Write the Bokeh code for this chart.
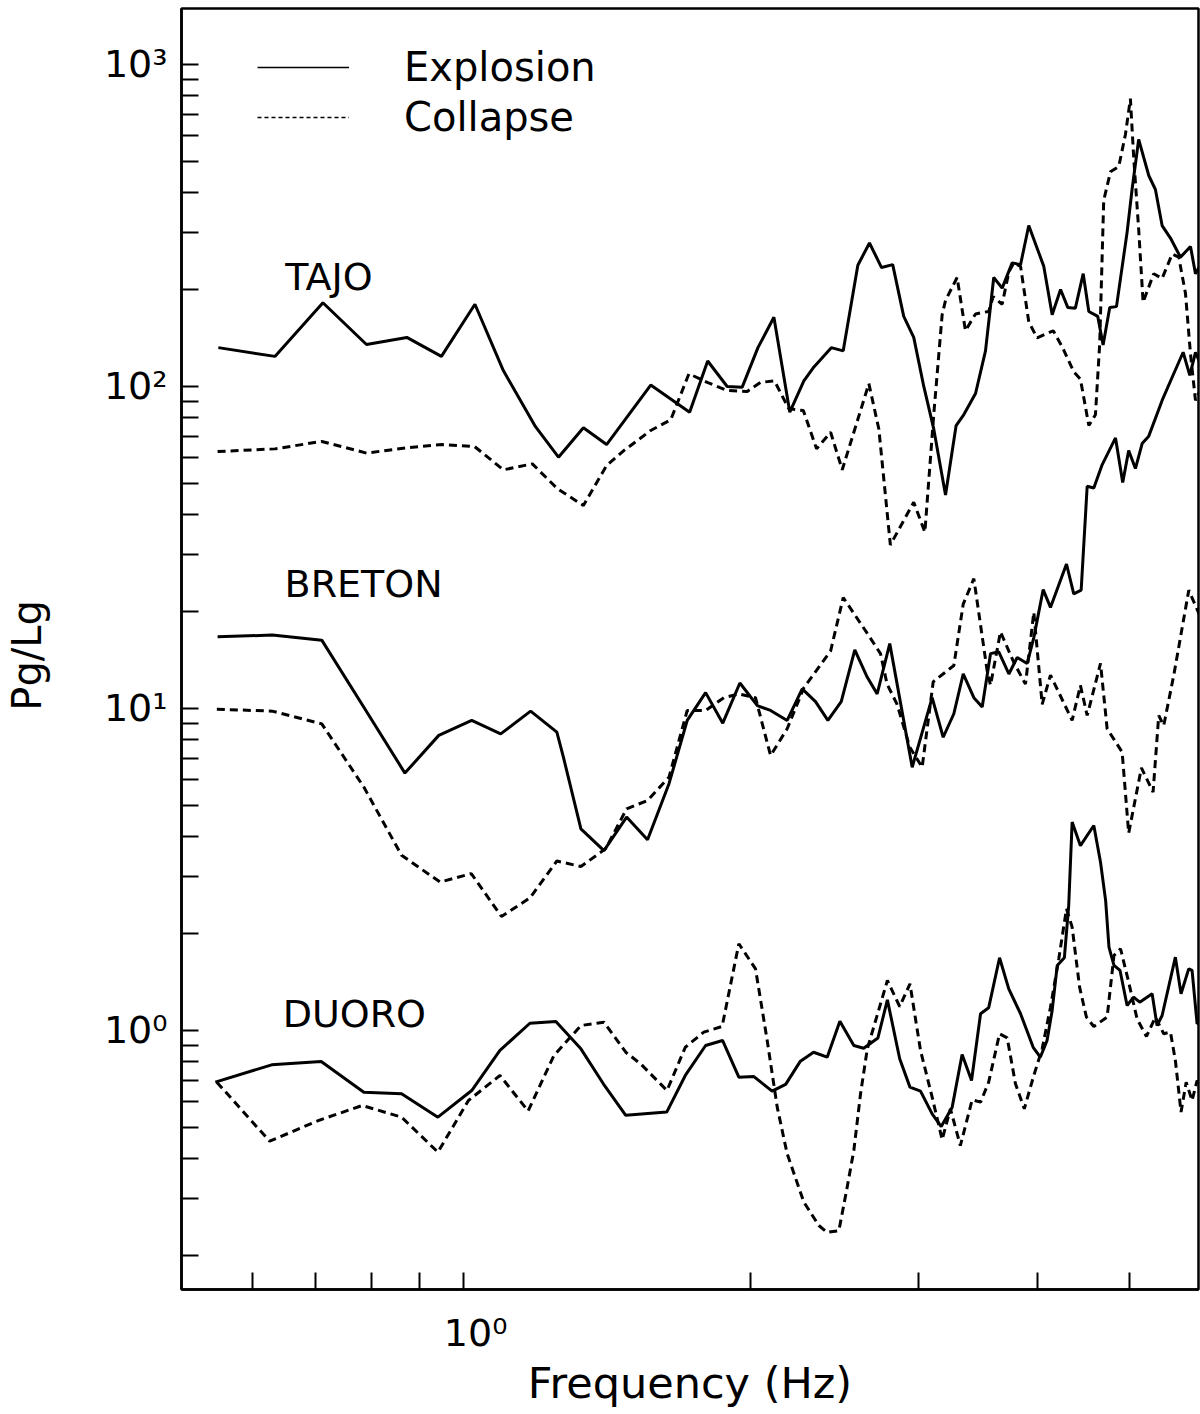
from bokeh.plotting import figure
from bokeh.models import FixedTicker, Legend, LegendItem, Label
from bokeh.embed import file_html
from bokeh.resources import INLINE

# ---------------- data (Pg/Lg spectral ratios) ----------------
TAJO_EXP_F = [0.553, 0.634, 0.712, 0.791, 0.872, 0.948, 1.028, 1.101, 1.190, 1.258, 1.336, 1.413, 1.572, 1.727,
              1.804, 1.891, 1.961, 2.037, 2.117, 2.200, 2.276, 2.332, 2.432, 2.503, 2.593, 2.667, 2.746, 2.821,
              2.897, 2.968, 3.041, 3.115, 3.205, 3.288, 3.350, 3.446, 3.530, 3.601, 3.675, 3.765, 3.842, 3.919,
              4.064, 4.147, 4.232, 4.306, 4.386, 4.470, 4.531, 4.630, 4.690, 4.766, 4.844, 4.970, 5.030, 5.111,
              5.237, 5.322, 5.409, 5.519, 5.654, 5.793, 5.863, 5.935]
TAJO_EXP = [132, 124, 182, 135, 142, 124, 180, 112, 75, 60.3, 74.4, 66, 101, 83.2,
            120, 100, 99.5, 132, 164, 83.2, 104, 115, 132, 129, 238, 279, 234, 239,
            165, 142, 100, 73.8, 46.0, 75.6, 81.8, 95.1, 129, 218, 202, 242, 239, 316,
            236, 167, 200, 176, 175, 224, 171, 165, 134.5, 176, 177, 301, 409, 585,
            452, 409, 316, 289, 252, 272, 224, 239]

TAJO_COL_F = [0.552, 0.634, 0.710, 0.791, 0.871, 0.949, 1.027, 1.101, 1.181, 1.255, 1.336, 1.413, 1.474, 1.572,
              1.650, 1.724, 1.802, 1.891, 1.985, 2.050, 2.120, 2.195, 2.273, 2.347, 2.428, 2.497, 2.663, 2.728,
              2.805, 2.968, 3.049, 3.115, 3.179, 3.205, 3.296, 3.363, 3.446, 3.558, 3.596, 3.675, 3.735, 3.780,
              3.842, 3.919, 3.999, 4.158, 4.249, 4.369, 4.440, 4.531, 4.604, 4.652, 4.697, 4.774, 4.871, 4.950,
              5.010, 5.050, 5.111, 5.166, 5.300, 5.409, 5.542, 5.631, 5.723, 5.793, 5.863, 5.935]
TAJO_COL = [62.8, 64.0, 67.5, 62.1, 64.5, 66.0, 65.1, 55.1, 57.5, 48.1, 42.7, 56.8, 63.3, 73.0,
            78.8, 109.5, 103, 97.2, 96.5, 103, 104, 85.2, 84.2, 64.0, 72.1, 55.1, 102, 73.8,
            32.2, 43.7, 35.3, 81.8, 167, 185, 218, 149, 168, 171, 190, 180, 227, 242,
            236, 158.7, 141.5, 148.9, 132.7, 111, 105.4, 75.6, 81.7, 136.1, 378, 464, 482, 606,
            783, 514, 308, 182.6, 224, 216.5, 257.7, 252, 194.6, 126.1, 90.5, 97.9]

BRETON_EXP_F = [0.552, 0.630, 0.710, 0.786, 0.868, 0.942, 1.020, 1.094, 1.176, 1.253, 1.273, 1.328, 1.404, 1.483,
                1.560, 1.643, 1.717, 1.795, 1.871, 1.950, 2.034, 2.100, 2.186, 2.267, 2.341, 2.412, 2.491, 2.574,
                2.653, 2.717, 2.801, 2.957, 3.103, 3.187, 3.270, 3.345, 3.432, 3.502, 3.573, 3.645, 3.735, 3.811,
                3.904, 3.967, 4.058, 4.130, 4.293, 4.369, 4.448, 4.513, 4.586, 4.679, 4.833, 4.918, 4.989, 5.071,
                5.154, 5.237, 5.409, 5.564, 5.691, 5.783, 5.863, 5.935]
BRETON_EXP = [16.7, 16.9, 16.3, 10.09, 6.30, 8.25, 9.18, 8.34, 9.81, 8.44, 7.06, 4.23, 3.62, 4.60,
              3.91, 5.84, 9.18, 11.2, 9.00, 12.0, 10.2, 9.86, 9.18, 11.5, 10.5, 9.18, 10.5, 15.2,
              12.5, 11.1, 15.9, 6.57, 10.8, 8.14, 9.63, 12.8, 10.8, 10.1, 14.8, 15.0, 12.8, 14.4,
              13.8, 16.6, 23.4, 20.6, 28.1, 22.7, 23.3, 49.0, 48.4, 57.1, 69.2, 50.3, 63.3, 55.6,
              66.5, 70.1, 90.5, 109.7, 127.7, 108.2, 127.7, 117]

BRETON_COL_F = [0.551, 0.630, 0.710, 0.751, 0.786, 0.861, 0.945, 1.019, 1.096, 1.174, 1.253, 1.328, 1.410, 1.483,
                1.560, 1.643, 1.717, 1.795, 1.876, 1.945, 2.025, 2.100, 2.186, 2.276, 2.428, 2.503, 2.653, 2.739,
                2.783, 2.851, 2.940, 3.029, 3.111, 3.270, 3.345, 3.432, 3.544, 3.573, 3.660, 3.780, 3.888, 3.967,
                4.048, 4.130, 4.352, 4.440, 4.513, 4.661, 4.736, 4.911, 4.989, 5.145, 5.292, 5.365, 5.430, 5.564,
                5.769, 5.935]
BRETON_COL = [9.95, 9.81, 8.96, 6.98, 5.70, 3.50, 2.89, 3.07, 2.26, 2.58, 3.36, 3.23, 3.67, 4.88,
              5.18, 6.12, 9.86, 9.86, 10.8, 11.1, 10.8, 7.14, 8.65, 11.6, 15.1, 22.1, 17.1, 14.8,
              11.9, 10.3, 7.58, 6.57, 12.1, 13.6, 21.1, 25.3, 13.1, 11.8, 17.3, 13.9, 11.9, 19.9,
              10.3, 12.7, 9.18, 11.8, 9.51, 13.8, 8.65, 7.32, 4.10, 6.54, 5.50, 9.51, 8.85, 12.7,
              23.3, 19.2]

DUORO_EXP_F = [0.549, 0.629, 0.709, 0.786, 0.861, 0.940, 1.020, 1.092, 1.174, 1.250, 1.328, 1.402, 1.480, 1.634,
               1.709, 1.795, 1.870, 1.945, 2.017, 2.108, 2.178, 2.257, 2.330, 2.408, 2.483, 2.568, 2.630, 2.722,
               2.785, 2.869, 2.941, 3.017, 3.103, 3.172, 3.257, 3.336, 3.413, 3.488, 3.557, 3.652, 3.734, 3.842,
               3.961, 4.030, 4.096, 4.147, 4.198, 4.271, 4.316, 4.352, 4.440, 4.586, 4.661, 4.719, 4.757, 4.815,
               4.886, 4.970, 5.049, 5.124, 5.280, 5.343, 5.409, 5.585, 5.662, 5.768, 5.815, 5.886, 5.935]
DUORO_EXP = [0.691, 0.782, 0.801, 0.643, 0.636, 0.538, 0.651, 0.867, 1.053, 1.066, 0.877, 0.683, 0.545, 0.558,
             0.725, 0.898, 0.931, 0.716, 0.719, 0.648, 0.680, 0.803, 0.856, 0.826, 1.069, 0.898, 0.881, 0.948,
             1.245, 0.817, 0.667, 0.648, 0.551, 0.503, 0.578, 0.842, 0.699, 1.127, 1.176, 1.682, 1.347, 1.127,
             0.887, 0.826, 0.931, 1.154, 1.592, 1.682, 2.444, 4.44, 3.75, 4.33, 3.33, 2.53, 1.814, 1.592,
             1.536, 1.196, 1.269, 1.224, 1.300, 1.036, 1.113, 1.689, 1.300, 1.554, 1.536, 1.049, 1.074]

DUORO_COL_F = [0.551, 0.626, 0.704, 0.783, 0.861, 0.940, 1.012, 1.092, 1.169, 1.244, 1.328, 1.404, 1.480, 1.534,
               1.635, 1.709, 1.787, 1.868, 1.945, 2.025, 2.083, 2.134, 2.186, 2.276, 2.360, 2.408, 2.477, 2.527,
               2.568, 2.610, 2.653, 2.785, 2.869, 2.941, 3.017, 3.103, 3.179, 3.243, 3.322, 3.418, 3.488, 3.557,
               3.652, 3.720, 3.795, 3.877, 3.967, 4.048, 4.130, 4.214, 4.293, 4.352, 4.431, 4.505, 4.586, 4.736,
               4.815, 4.892, 4.989, 5.091, 5.208, 5.321, 5.430, 5.519, 5.585, 5.662, 5.733, 5.815, 5.886, 5.935]
DUORO_COL = [0.691, 0.453, 0.525, 0.585, 0.538, 0.419, 0.606, 0.725, 0.562, 0.836, 1.036, 1.061, 0.856, 0.788,
             0.651, 0.887, 0.988, 1.029, 1.859, 1.554, 0.931, 0.578, 0.414, 0.293, 0.248, 0.236, 0.239, 0.326,
             0.424, 0.636, 0.877, 1.430, 1.187, 1.396, 0.867, 0.621, 0.458, 0.571, 0.439, 0.609, 0.599, 0.691,
             0.977, 0.949, 0.683, 0.571, 0.725, 0.877, 1.181, 1.670, 2.388, 2.094, 1.363, 1.100, 1.029, 1.100,
             1.710, 1.794, 1.413, 1.087, 0.958, 1.100, 0.977, 0.988, 0.807, 0.558, 0.691, 0.606, 0.699, 0.675]

STATIONS = ["TAJO", "BRETON", "DUORO"]
STATION_F = [0.650, 0.649, 0.646]
STATION_V = [196, 21.8, 1.014]

SERIES_NAMES = ["Explosion", "Collapse"]
X_TITLE = "Frequency (Hz)"
Y_TITLE = "Pg/Lg"

X_MAJOR = [1]
X_MINOR = [0.6, 0.7, 0.8, 0.9, 2, 3, 4, 5]
Y_MAJOR = [1, 10, 100, 1000]
Y_MINOR = [0.2, 0.3, 0.4, 0.5, 0.6, 0.7, 0.8, 0.9,
           2, 3, 4, 5, 6, 7, 8, 9,
           20, 30, 40, 50, 60, 70, 80, 90,
           200, 300, 400, 500, 600, 700, 800, 900]
X_LABELS = {1: "\u00a0\u00a010⁰"}
Y_LABELS = {1: "10⁰", 10: "10¹", 100: "10²", 1000: "10³"}

# ---------------- figure ----------------
FONT = "DejaVu Sans"
p = figure(width=1200, height=1414, x_axis_type="log", y_axis_type="log",
           x_range=(0.5059, 5.906), y_range=(0.1569, 1492),
           output_backend="svg", toolbar_location=None,
           min_border_left=181, min_border_right=2, min_border_top=8, min_border_bottom=125)
p.xgrid.visible = False
p.ygrid.visible = False
p.outline_line_color = "black"
p.outline_line_width = 2.5
p.outline_line_alpha = 1.0
p.background_fill_color = "white"
p.border_fill_color = "white"

p.xaxis.ticker = FixedTicker(ticks=X_MAJOR, minor_ticks=X_MINOR)
p.yaxis.ticker = FixedTicker(ticks=Y_MAJOR, minor_ticks=Y_MINOR)
p.xaxis.major_label_overrides = X_LABELS
p.yaxis.major_label_overrides = Y_LABELS
p.xaxis.axis_label = X_TITLE
p.yaxis.axis_label = Y_TITLE + "\u00a0"

for ax in (p.xaxis[0], p.yaxis[0]):
    ax.axis_line_width = 2.5
    ax.axis_line_color = "black"
    ax.major_tick_in = 17
    ax.major_tick_out = 0
    ax.minor_tick_in = 17
    ax.minor_tick_out = 0
    ax.major_tick_line_width = 2
    ax.minor_tick_line_width = 2
    ax.major_tick_line_color = "black"
    ax.minor_tick_line_color = "black"
    ax.major_label_text_font = FONT
    ax.major_label_text_font_size = "38px"
    ax.major_label_text_color = "black"
    ax.axis_label_text_font = FONT
    ax.axis_label_text_font_style = "normal"
    ax.axis_label_text_color = "black"

p.xaxis.major_label_standoff = 21
p.xaxis.axis_label_text_font_size = "43px"
p.xaxis.axis_label_standoff = 0
p.yaxis.major_label_standoff = 14
p.yaxis.axis_label_text_font_size = "40px"
p.yaxis.axis_label_standoff = 51

solid = dict(line_color="black", line_width=3)
dashed = dict(line_color="black", line_width=3, line_dash="8 5")

p.line(TAJO_EXP_F, TAJO_EXP, **solid)
p.line(TAJO_COL_F, TAJO_COL, **dashed)
p.line(BRETON_EXP_F, BRETON_EXP, **solid)
p.line(BRETON_COL_F, BRETON_COL, **dashed)
p.line(DUORO_EXP_F, DUORO_EXP, **solid)
p.line(DUORO_COL_F, DUORO_COL, **dashed)

for name, fx, vy in zip(STATIONS, STATION_F, STATION_V):
    p.add_layout(Label(x=fx, y=vy, text=name, text_font=FONT, text_font_size="38px",
                       text_color="black", text_baseline="alphabetic", text_align="left",
                       y_offset=15))

nan = float("nan")
leg_solid = p.line(x=[nan], y=[nan], line_color="black", line_width=1.5)
leg_dash = p.line(x=[nan], y=[nan], line_color="black", line_width=1.5, line_dash="4 3")
legend = Legend(items=[LegendItem(label=SERIES_NAMES[0], renderers=[leg_solid]),
                       LegendItem(label=SERIES_NAMES[1], renderers=[leg_dash])],
                location=(76, 1149), orientation="vertical",
                glyph_width=92, glyph_height=34, label_height=44, label_standoff=55,
                spacing=4, padding=0, margin=0,
                border_line_alpha=0, background_fill_alpha=0,
                label_text_font=FONT, label_text_font_size="40px",
                label_text_color="black", label_text_line_height=1.0)
p.add_layout(legend)

html = file_html(p, INLINE, "Pg/Lg")
open("out.html", "w").write(html)
